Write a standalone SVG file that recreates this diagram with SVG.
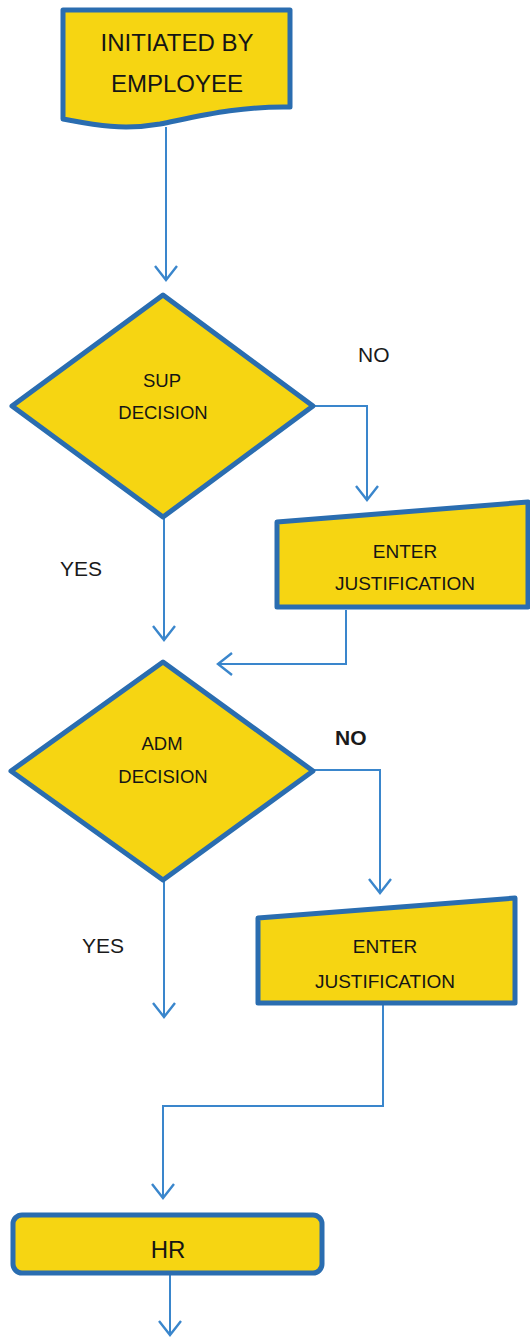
<svg xmlns="http://www.w3.org/2000/svg" width="530" height="1338" viewBox="0 0 530 1338">
<style>
.node{fill:#f6d512;stroke:#2a6db0;stroke-width:5;stroke-linejoin:round}
.conn{fill:none;stroke:#3a86cc;stroke-width:2}
.t{font-family:"Liberation Sans",Arial,sans-serif;fill:#151515;text-anchor:middle}
.lbl{font-family:"Liberation Sans",Arial,sans-serif;fill:#1a1a1a;font-size:21px}
</style>
<defs>
<marker id="ah" markerWidth="24" markerHeight="26" refX="16" refY="13" orient="auto" markerUnits="userSpaceOnUse">
<path d="M2,2 L16,13 L2,24" fill="none" stroke="#3a86cc" stroke-width="2.4"/>
</marker>
</defs>
<rect width="530" height="1338" fill="#ffffff"/>
<g id="connectors">
<path class="conn" d="M166,127 L166,280" marker-end="url(#ah)"/>
<path class="conn" d="M313,406 L367,406 L367,500" marker-end="url(#ah)"/>
<path class="conn" d="M164,517 L164,640" marker-end="url(#ah)"/>
<path class="conn" d="M346,610 L346,664 L218,664" marker-end="url(#ah)"/>
<path class="conn" d="M313,770 L380,770 L380,893" marker-end="url(#ah)"/>
<path class="conn" d="M164,880 L164,1017" marker-end="url(#ah)"/>
<path class="conn" d="M383,1005 L383,1106 L163,1106 L163,1198" marker-end="url(#ah)"/>
<path class="conn" d="M170,1275 L170,1335" marker-end="url(#ah)"/>
</g>
<g id="start">
<path class="node" d="M63,10 L290,10 L290,107 C240,106 200,116 160,124 C120,131 90,124 63,119 Z"/>
<text class="t" x="177" y="51" font-size="24">INITIATED BY</text>
<text class="t" x="177" y="92" font-size="24">EMPLOYEE</text>
</g>
<g id="sup-decision">
<path class="node" d="M163,295 L313,406 L163,517 L12,406 Z"/>
<text class="t" x="162" y="387" font-size="18.5">SUP</text>
<text class="t" x="163" y="419" font-size="18.5">DECISION</text>
</g>
<g id="justification1">
<path class="node" d="M277,522 L528,502 L528,607 L277,607 Z"/>
<text class="t" x="405" y="558" font-size="19">ENTER</text>
<text class="t" x="405" y="590" font-size="19">JUSTIFICATION</text>
</g>
<g id="adm-decision">
<path class="node" d="M163,662 L313,771 L163,880 L11,771 Z"/>
<text class="t" x="162" y="750" font-size="18.5">ADM</text>
<text class="t" x="163" y="783" font-size="18.5">DECISION</text>
</g>
<g id="justification2">
<path class="node" d="M258,918 L515,898 L515,1003 L258,1003 Z"/>
<text class="t" x="385" y="953" font-size="19">ENTER</text>
<text class="t" x="385" y="988" font-size="19">JUSTIFICATION</text>
</g>
<g id="hr">
<rect class="node" x="13" y="1215" width="309" height="58" rx="9"/>
<text class="t" x="168" y="1258" font-size="24">HR</text>
</g>
<g id="labels">
<text class="lbl" x="358" y="362">NO</text>
<text class="lbl" x="60" y="576">YES</text>
<text class="lbl" x="335" y="745" font-weight="bold">NO</text>
<text class="lbl" x="82" y="953">YES</text>
</g>
</svg>
